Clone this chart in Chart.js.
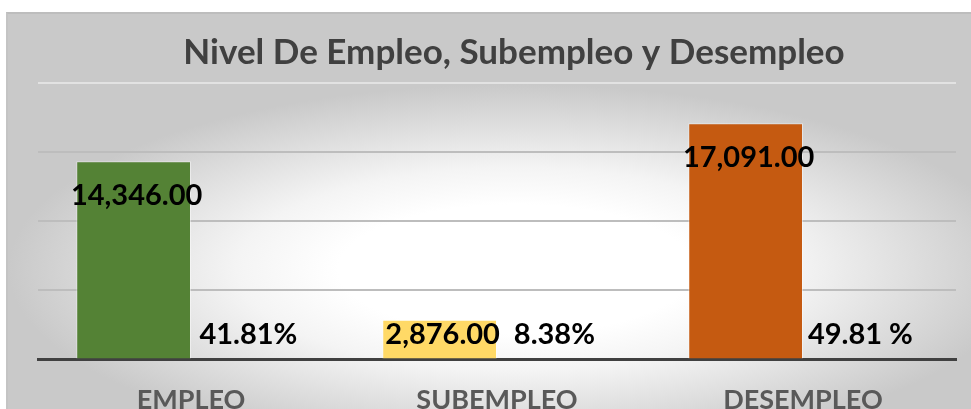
<!DOCTYPE html>
<html>
<head>
<meta charset="utf-8">
<script src="https://cdn.jsdelivr.net/npm/chart.js@4.4.1/dist/chart.umd.min.js"></script>
<style>
	html, body { margin: 0; padding: 0; background: #ffffff; overflow: hidden; }
	body { width: 971px; height: 409px; position: relative; }
	#box {
		position: absolute; left: 6px; top: 12px; width: 1016px; height: 440px;
		border-top: 2px solid #bdbdbd; border-left: 2px solid #c4c4c4;
		background: radial-gradient(ellipse closest-side at 50% 58%, #ffffff 35%, #f4f4f4 55%, #c9c9c9 100%);
	}
	#wrap { position: absolute; left: 7px; top: 13px; width: 1014px; height: 427px; }
</style>
</head>
<body>
<div id="box"></div>
<div id="wrap"><canvas id="empleo"></canvas></div>
<script type="text/javascript">
	var categories = ['EMPLEO', 'SUBEMPLEO', 'DESEMPLEO'];
	var personas = [14346, 2876, 17091];
	var porcentajes = [41.81, 8.38, 49.81];
	var etiquetasPorcentaje = ['41.81%', '8.38%', '49.81 %'];
	var barColors = ['#548235', '#ffd966', '#c55a11'];

	function formatValue(v) {
		return v.toLocaleString('en-US', { minimumFractionDigits: 2, maximumFractionDigits: 2 });
	}

	// draws the value / percent labels like the excel data labels
	var labelsPlugin = {
		id: 'barLabels',
		afterDatasetsDraw: function(chart) {
			var ctx = chart.ctx;
			var base = chart.scales.y.getPixelForValue(0);
			ctx.save();
			ctx.font = 'bold 29px Lato';
			ctx.fillStyle = '#000000';
			ctx.textAlign = 'center';
			ctx.textBaseline = 'middle';
			chart.getDatasetMeta(0).data.forEach(function(bar, i) {
				var y = Math.min(bar.y + 34, base - 25);
				ctx.fillText(formatValue(personas[i]), bar.x + 3, y);
			});
			chart.getDatasetMeta(1).data.forEach(function(bar, i) {
				ctx.fillText(etiquetasPorcentaje[i], bar.x, base - 25);
			});
			ctx.restore();
		}
	};

	var chart = new Chart(document.getElementById('empleo').getContext('2d'), {
		type: 'bar',
		data: {
			labels: categories,
			datasets: [{
				label: 'Personas',
				data: personas,
				backgroundColor: barColors,
				borderColor: 'rgba(255,255,255,0.45)',
				borderWidth: 1,
				categoryPercentage: 0.75,
				barPercentage: 1.0
			}, {
				label: 'Porcentaje',
				data: porcentajes,
				backgroundColor: 'rgba(0,0,0,0)',
				categoryPercentage: 0.75,
				barPercentage: 1.0
			}]
		},
		options: {
			responsive: true,
			maintainAspectRatio: false,
			animation: false,
			layout: { padding: { left: 31, right: 31, top: 0, bottom: 0 } },
			plugins: {
				legend: { display: false },
				tooltip: { enabled: false },
				title: {
					display: true,
					text: 'Nivel De Empleo, Subempleo y Desempleo',
					color: '#404040',
					font: { family: 'Lato', size: 35, weight: 'bold', lineHeight: 1.2 },
					padding: { top: 19, bottom: 9 }
				}
			},
			scales: {
				x: {
					grid: { display: false, drawTicks: false },
					border: { display: true, color: '#404040', width: 3 },
					ticks: {
						color: '#595959',
						padding: 24,
						font: { family: 'Lato', size: 27, weight: 'bold' }
					}
				},
				y: {
					min: 0,
					max: 20000,
					ticks: { stepSize: 5000, display: false },
					grid: {
						drawTicks: false,
						tickLength: 0,
						lineWidth: 2,
						color: function(c) { return c.tick && c.tick.value === 20000 ? '#e2e2e2' : '#bdbdbd'; }
					},
					border: { display: false }
				},
				// empty right side space so the title stays centred on the whole box
				margen: {
					position: 'right',
					ticks: { display: false },
					grid: { display: false, drawTicks: false },
					border: { display: false },
					afterFit: function(scale) { scale.width = 34; }
				}
			}
		},
		plugins: [labelsPlugin]
	});
</script>
</body>
</html>
